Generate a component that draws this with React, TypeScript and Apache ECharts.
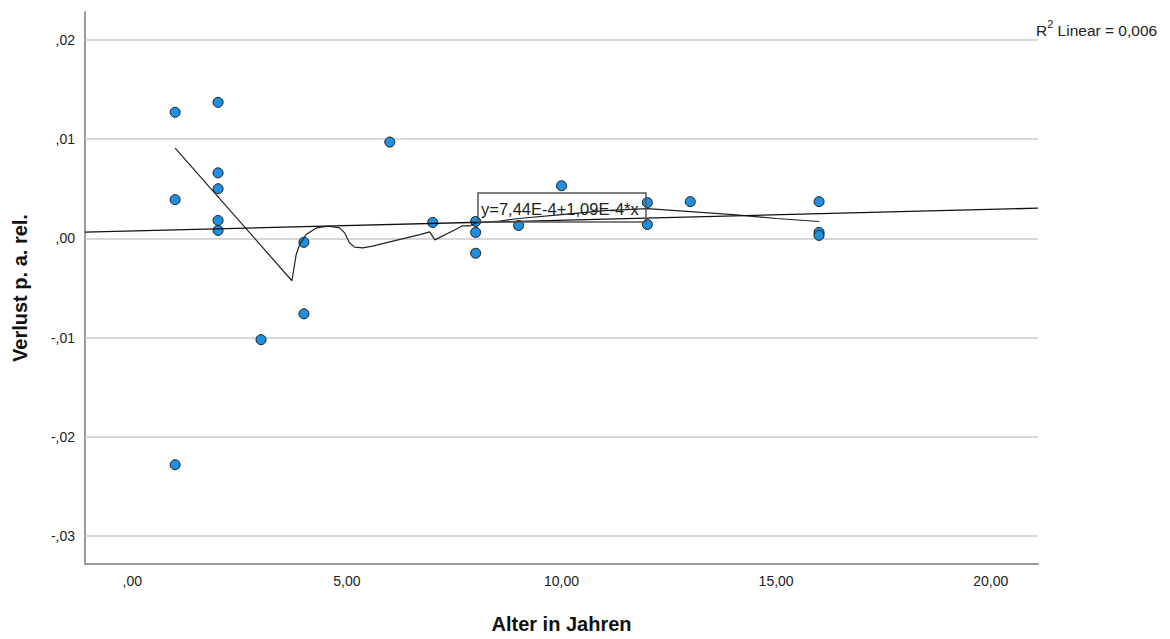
import React, { useEffect, useRef } from "react";
import * as echarts from "echarts";

// Scatter data: age in years vs. relative loss per year
const ageX = [1, 1, 1, 2, 2, 2, 2, 2, 3, 4, 4, 6, 7, 8, 8, 8, 9, 10, 12, 12, 13, 16, 16, 16];
const lossY = [
  0.0127, 0.0039, -0.0228, 0.0137, 0.0066, 0.005, 0.0018, 0.0008, -0.0102, -0.0004, -0.0076,
  0.0097, 0.0016, 0.0017, 0.0006, -0.0015, 0.0013, 0.0053, 0.0036, 0.0014, 0.0037, 0.0037,
  0.0006, 0.0003,
];

// Loess smoother
const loessX = [
  1.0, 3.72, 3.82, 3.9, 4.05, 4.29, 4.56, 4.83, 4.95, 5.06, 5.18, 5.37, 5.6, 6.0, 6.7, 6.93,
  7.05, 7.51, 7.68, 7.86, 8.0, 8.56, 9.0, 10.0, 11.0, 12.0, 13.0, 14.0, 15.0, 16.0,
];
const loessY = [
  0.00909, -0.00427, -0.00162, -0.00062, 0.00038, 0.00105, 0.00122, 0.00105, 0.00055, -0.00045,
  -0.00088, -0.00095, -0.00078, -0.00035, 0.00038, 0.00065, -0.00015, 0.00085, 0.00125, 0.00125,
  0.00155, 0.00175, 0.002, 0.0024, 0.0028, 0.003, 0.0027, 0.0024, 0.002, 0.0017,
];

// Linear fit line end points
const fitX = [-1.1, 21.1];
const fitY = [0.00062, 0.00304];

// Axis ticks
const xTicks = [0, 5, 10, 15, 20];
const yTicks = [0.02, 0.01, 0, -0.01, -0.02, -0.03];

const equationText = "y=7,44E-4+1,09E-4*x";
const r2Value = "0,006";

const FONT = "'Liberation Sans', Arial, sans-serif";

const fmt = (v: number) => {
  const s = Math.abs(v).toFixed(2).replace(".", ",");
  const t = s.startsWith("0,") ? s.slice(1) : s;
  return (v < -1e-9 ? "-" : "") + t;
};

export default function App() {
  const ref = useRef<HTMLDivElement>(null);

  useEffect(() => {
    if (!ref.current) return;
    const chart = echarts.init(ref.current, undefined, { renderer: "svg" });

    const option: any = {
      animation: false,
      backgroundColor: "#ffffff",
      textStyle: { fontFamily: FONT },
      grid: { left: 85, right: 132, top: 12, bottom: 69, containLabel: false },
      xAxis: {
        type: "value",
        min: -1.1,
        max: 21.1,
        axisLine: { show: true, onZero: false, lineStyle: { color: "#9a9a9a", width: 2 } },
        axisTick: { show: false },
        splitLine: { show: false },
        axisLabel: {
          customValues: xTicks,
          formatter: (v: number) => fmt(v),
          fontSize: 14,
          color: "#222",
          margin: 10,
          fontFamily: FONT,
        },
        name: "Alter in Jahren",
        nameLocation: "middle",
        nameGap: 50,
        nameTextStyle: { fontSize: 20, fontWeight: "bold", color: "#111", fontFamily: FONT },
      },
      yAxis: {
        type: "value",
        min: -0.0328,
        max: 0.0228,
        axisLine: { show: true, onZero: false, lineStyle: { color: "#9a9a9a", width: 2 } },
        axisTick: { show: false },
        splitLine: { show: false },
        axisLabel: {
          customValues: yTicks,
          formatter: (v: number) => fmt(v),
          fontSize: 14,
          color: "#222",
          margin: 10,
          fontFamily: FONT,
        },
        name: "Verlust p. a. rel.",
        nameLocation: "middle",
        nameGap: 55,
        nameRotate: 90,
        nameTextStyle: { fontSize: 20, fontWeight: "bold", color: "#111", fontFamily: FONT },
      },
      series: [
        {
          type: "scatter",
          z: 2,
          symbol: "circle",
          symbolSize: 10,
          data: ageX.map((x, i) => [x, lossY[i]]),
          itemStyle: { color: "#1f8fe0", borderColor: "#1a1a1a", borderWidth: 1, opacity: 1 },
          markLine: {
            silent: true,
            symbol: "none",
            z: 1,
            label: { show: false },
            lineStyle: { color: "#cbcbcb", type: "solid", width: 1.5 },
            data: yTicks.map((v) => ({ yAxis: v })),
          },
        },
        {
          type: "line",
          z: 3,
          showSymbol: false,
          symbol: "none",
          data: loessX.map((x, i) => [x, loessY[i]]),
          lineStyle: { color: "#222", width: 1.2 },
        },
        {
          type: "line",
          z: 3,
          showSymbol: false,
          symbol: "none",
          data: fitX.map((x, i) => [x, fitY[i]]),
          lineStyle: { color: "#111", width: 1.3 },
        },
      ],
      graphic: [
        {
          type: "rect",
          z: 10,
          shape: { x: 478, y: 193, width: 168, height: 29 },
          style: { fill: "none", stroke: "#555", lineWidth: 1.5 },
        },
        {
          type: "text",
          z: 11,
          x: 481,
          y: 209,
          style: {
            text: equationText,
            fontSize: 16.5,
            fontFamily: FONT,
            fill: "#222",
            verticalAlign: "middle",
          },
        },
        {
          type: "text",
          z: 11,
          x: 1036,
          y: 18,
          style: {
            text: "{a|R}{s|2}{a| Linear = " + r2Value + "}",
            fontFamily: FONT,
            fill: "#222",
            rich: {
              a: { fontSize: 15.5, fontFamily: FONT, fill: "#222", verticalAlign: "bottom", lineHeight: 20 },
              s: { fontSize: 11, fontFamily: FONT, fill: "#222", verticalAlign: "top", lineHeight: 20, padding: [0, 0, 8, 0] },
            },
          },
        },
      ],
    };

    chart.setOption(option);
    return () => chart.dispose();
  }, []);

  return (
    <div
      ref={ref}
      style={{ position: "absolute", left: 0, top: 0, width: 1170, height: 639 }}
    />
  );
}
